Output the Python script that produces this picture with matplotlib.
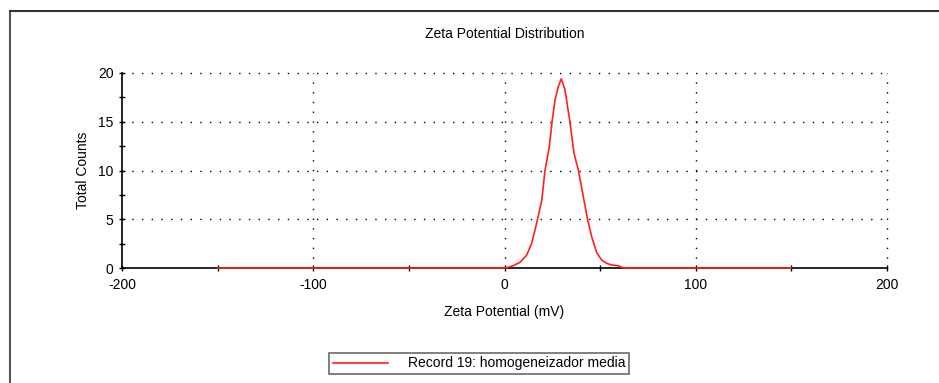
import matplotlib.pyplot as plt
from matplotlib.lines import Line2D

plt.rcParams['font.family'] = ['Liberation Sans', 'DejaVu Sans']
plt.rcParams['axes.unicode_minus'] = False

# zeta potential (mV) and total counts
zeta = [-150, -100, -50, 0, 1.1, 4.6, 8.1, 11.6, 14.2, 16.8, 19.5, 21.2, 23.4,
        25.0, 26.4, 28.1, 29.7, 31.6, 34.2, 36.3, 38.6, 40.9, 43.3, 45.6,
        48.2, 50.8, 53.4, 56.1, 59.5, 61.3, 63.0, 100, 150]
counts = [0, 0, 0, 0, 0.03, 0.24, 0.58, 1.33, 2.53, 4.58, 6.97, 10.05, 12.4,
          15.2, 17.2, 18.6, 19.4, 18.3, 15.0, 11.8, 10.05, 7.66, 5.1, 3.2,
          1.57, 0.82, 0.48, 0.31, 0.24, 0.07, 0, 0, 0]

x_major = [-200, -100, 0, 100, 200]
x_minor = [-150, -50, 50, 150]
y_major = [0, 5, 10, 15, 20]
y_minor = [2.5, 7.5, 12.5, 17.5]

record = "Record 19: homogeneizador media"

fs = 10
fig = plt.figure(figsize=(9.39, 3.83), dpi=100)
ax = fig.add_axes([122 / 939, 1 - 268 / 383, 765 / 939, 195 / 383])

# dotted grid
for gx in x_major[1:]:
    ax.plot([gx, gx], [0, 20], color='black', lw=1.0, ls=(0, (1, 6)), zorder=1, clip_on=False)
for gy in y_major[1:]:
    ax.plot([-200, 200], [gy, gy], color='black', lw=1.0, ls=(0, (1, 6)), zorder=1, clip_on=False)

ax.plot(zeta, counts, color='#ff2020', lw=1.2, label=record, zorder=3, clip_on=False)

ax.set_xlim(-200, 200)
ax.set_ylim(0, 20)
ax.set_xticks(x_major)
ax.set_xticks(x_minor, minor=True)
ax.set_yticks(y_major)
ax.set_yticks(y_minor, minor=True)
ax.tick_params(which='both', direction='inout', length=5, width=1.0, labelsize=fs,
               colors='black')
ax.tick_params(axis='x', pad=5)

for s in ['top', 'right']:
    ax.spines[s].set_visible(False)
for s in ['left', 'bottom']:
    ax.spines[s].set_linewidth(1.2)
    ax.spines[s].set_zorder(2)

ax.set_title("Zeta Potential Distribution", fontsize=fs, pad=25)
ax.set_xlabel("Zeta Potential (mV)", fontsize=fs, labelpad=9)
ax.set_ylabel("Total Counts", fontsize=fs, labelpad=6)

leg = ax.legend(loc='center', bbox_to_anchor=(479 / 939, 1 - 363.5 / 383),
                bbox_transform=fig.transFigure, fontsize=fs, frameon=True,
                fancybox=False, handlelength=4.0, handletextpad=1.4,
                borderpad=0.25, borderaxespad=0)
leg.get_frame().set_edgecolor('#444444')
leg.get_frame().set_linewidth(1.2)

# outer panel border (left and top edges visible)
fig.add_artist(Line2D([10 / 939, 10 / 939], [0, 1 - 11 / 383], color='#555555', lw=1.5))
fig.add_artist(Line2D([10 / 939, 1], [1 - 11 / 383, 1 - 11 / 383], color='#333333', lw=1.5))

fig.savefig("out.png", dpi=100)
